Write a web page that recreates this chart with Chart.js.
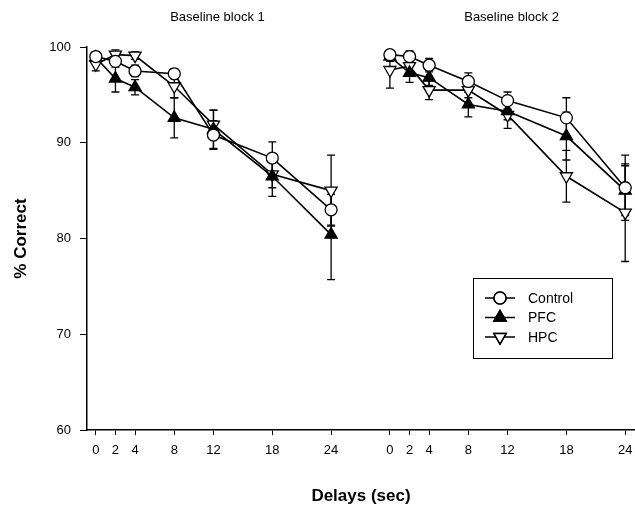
<!DOCTYPE html>
<html>
<head>
<meta charset="utf-8">
<script src="https://cdn.jsdelivr.net/npm/chart.js"></script>
<style>
  body { margin: 0; background: #fff; }
  canvas { display: block; }
</style>
</head>
<body>
<canvas id="myChart" width="635" height="511"></canvas>
<script>
// delays (sec) shown under each block; block 2 is drawn shifted right on the same axis
const delays = [0, 2, 4, 8, 12, 18, 24];
const block2Offset = 30;
const blockTitles = ['Baseline block 1', 'Baseline block 2'];
const yTicks = [60, 70, 80, 90, 100];

// % correct
const controlBlock1 = [99.0, 98.5, 97.5, 97.2, 90.8, 88.4, 83.0];
const controlBlock2 = [99.2, 99.0, 98.1, 96.4, 94.4, 92.6, 85.3];
const pfcBlock1 = [98.9, 96.7, 95.8, 92.6, 91.4, 86.5, 80.4];
const pfcBlock2 = [99.0, 97.3, 96.8, 94.0, 93.3, 90.7, 85.0];
const hpcBlock1 = [98.2, 99.2, 99.1, 95.9, 91.9, 86.7, 85.0];
const hpcBlock2 = [97.6, 98.0, 95.5, 95.5, 92.9, 86.5, 82.7];

// error bar half-lengths
const controlErr1 = [0.5, 0.6, 0.6, 0.5, 1.5, 1.7, 1.6];
const controlErr2 = [0.4, 0.6, 0.7, 0.9, 0.9, 2.1, 3.4];
const pfcErr1 = [0.5, 1.4, 0.8, 2.1, 2.0, 2.1, 4.7];
const pfcErr2 = [0.5, 1.0, 0.8, 1.3, 0.9, 2.5, 2.6];
const hpcErr1 = [0.7, 0.5, 0.4, 1.2, 1.5, 1.4, 3.7];
const hpcErr2 = [1.9, 0.8, 1.0, 0.8, 1.4, 2.7, 5.1];

const FONT = 'Liberation Sans, Arial, Helvetica, sans-serif';

function buildPoints(b1, b2, e1, e2) {
    const pts = [];
    delays.forEach((d, i) => pts.push({x: d, y: b1[i], err: e1[i]}));
    pts.push({x: 27, y: null}); // gap between blocks
    delays.forEach((d, i) => pts.push({x: d + block2Offset, y: b2[i], err: e2[i]}));
    return pts;
}

const tickValues = delays.concat(delays.map(d => d + block2Offset));

const errorBars = {
    id: 'errorBars',
    beforeDatasetsDraw(chart) {
        const ctx = chart.ctx;
        const xs = chart.scales.x, ys = chart.scales.y;
        ctx.save();
        ctx.strokeStyle = '#000';
        ctx.lineWidth = 1.3;
        chart.data.datasets.forEach(ds => {
            ds.data.forEach(p => {
                if (p.y === null || !p.err) return;
                const x = xs.getPixelForValue(p.x);
                const top = ys.getPixelForValue(p.y + p.err);
                const bot = ys.getPixelForValue(p.y - p.err);
                ctx.beginPath();
                ctx.moveTo(x, top); ctx.lineTo(x, bot);
                ctx.moveTo(x - 4, top); ctx.lineTo(x + 4, top);
                ctx.moveTo(x - 4, bot); ctx.lineTo(x + 4, bot);
                ctx.stroke();
            });
        });
        ctx.restore();
    }
};

const extras = {
    id: 'extras',
    afterDraw(chart) {
        const ctx = chart.ctx;
        const xs = chart.scales.x;
        ctx.save();
        ctx.fillStyle = '#000';
        ctx.font = '13px ' + FONT;
        ctx.textAlign = 'center';
        ctx.textBaseline = 'middle';
        // panel titles
        ctx.fillText(blockTitles[0], (xs.getPixelForValue(0) + xs.getPixelForValue(24)) / 2 + 4, 17);
        ctx.fillText(blockTitles[1], (xs.getPixelForValue(block2Offset) + xs.getPixelForValue(block2Offset + 24)) / 2 + 4, 17);

        // legend box
        ctx.strokeStyle = '#000';
        ctx.lineWidth = 1;
        ctx.strokeRect(473.5, 278.5, 139, 80);
        ctx.font = '14px ' + FONT;
        ctx.textAlign = 'left';
        chart.data.datasets.forEach((ds, i) => {
            const y = 298 + i * 19.5;
            ctx.beginPath();
            ctx.lineWidth = 1.5;
            ctx.moveTo(485, y); ctx.lineTo(515, y);
            ctx.stroke();
            Chart.helpers.drawPoint(ctx, {
                pointStyle: ds.pointStyle,
                rotation: ds.pointRotation || 0,
                radius: ds.pointRadius,
                borderWidth: ds.pointBorderWidth
            }, 500, y);
            ctx.fillStyle = ds.pointBackgroundColor;
            ctx.fill();
            ctx.stroke();
            ctx.fillStyle = '#000';
            ctx.fillText(ds.label, 528, y + 1);
        });
        ctx.restore();
    }
};

const config = {
    type: 'line',
    data: {
        datasets: [
            {
                label: 'Control',
                data: buildPoints(controlBlock1, controlBlock2, controlErr1, controlErr2),
                borderColor: '#000', borderWidth: 1.6,
                pointStyle: 'circle', pointRadius: 6,
                pointBackgroundColor: '#fff', pointBorderColor: '#000', pointBorderWidth: 1.3
            },
            {
                label: 'PFC',
                data: buildPoints(pfcBlock1, pfcBlock2, pfcErr1, pfcErr2),
                borderColor: '#000', borderWidth: 1.6,
                pointStyle: 'triangle', pointRadius: 7,
                pointBackgroundColor: '#000', pointBorderColor: '#000', pointBorderWidth: 1.3
            },
            {
                label: 'HPC',
                data: buildPoints(hpcBlock1, hpcBlock2, hpcErr1, hpcErr2),
                borderColor: '#000', borderWidth: 1.6,
                pointStyle: 'triangle', pointRotation: 180, pointRadius: 7,
                pointBackgroundColor: '#fff', pointBorderColor: '#000', pointBorderWidth: 1.3
            }
        ]
    },
    options: {
        responsive: false,
        animation: false,
        spanGaps: false,
        layout: {autoPadding: false, padding: {top: 47, left: 0, right: 0, bottom: 0}},
        plugins: {legend: {display: false}, tooltip: {enabled: false}},
        scales: {
            x: {
                type: 'linear',
                min: -0.9,
                max: 55,
                afterBuildTicks: scale => { scale.ticks = tickValues.map(v => ({value: v})); },
                afterFit: scale => {
                    scale.height = 81;
                    scale.paddingLeft = 0;
                    scale.paddingRight = 0;
                },
                grid: {drawOnChartArea: false, drawTicks: true, tickLength: 5, color: '#000', lineWidth: 1},
                border: {display: true, color: '#000', width: 1.5},
                ticks: {
                    autoSkip: false, maxRotation: 0, padding: 8,
                    color: '#000', font: {family: FONT, size: 13},
                    callback: v => (v >= block2Offset ? v - block2Offset : v)
                },
                title: {
                    display: true, text: 'Delays (sec)', color: '#000',
                    font: {family: FONT, size: 17, weight: 'bold'},
                    padding: {top: 0, bottom: 4}
                }
            },
            y: {
                min: 60,
                max: 100,
                afterBuildTicks: scale => { scale.ticks = yTicks.map(v => ({value: v})); },
                afterFit: scale => { scale.width = 87; },
                grid: {drawOnChartArea: false, drawTicks: true, tickLength: 7, color: '#000', lineWidth: 1},
                border: {display: true, color: '#000', width: 1.5},
                ticks: {padding: 9, color: '#000', font: {family: FONT, size: 13}},
                title: {
                    display: true, text: '% Correct', color: '#000',
                    font: {family: FONT, size: 17, weight: 'bold'},
                    padding: {top: 11, bottom: 0}
                }
            }
        }
    },
    plugins: [errorBars, extras]
};

const ctx = document.getElementById('myChart').getContext('2d');
new Chart(ctx, config);
</script>
</body>
</html>
